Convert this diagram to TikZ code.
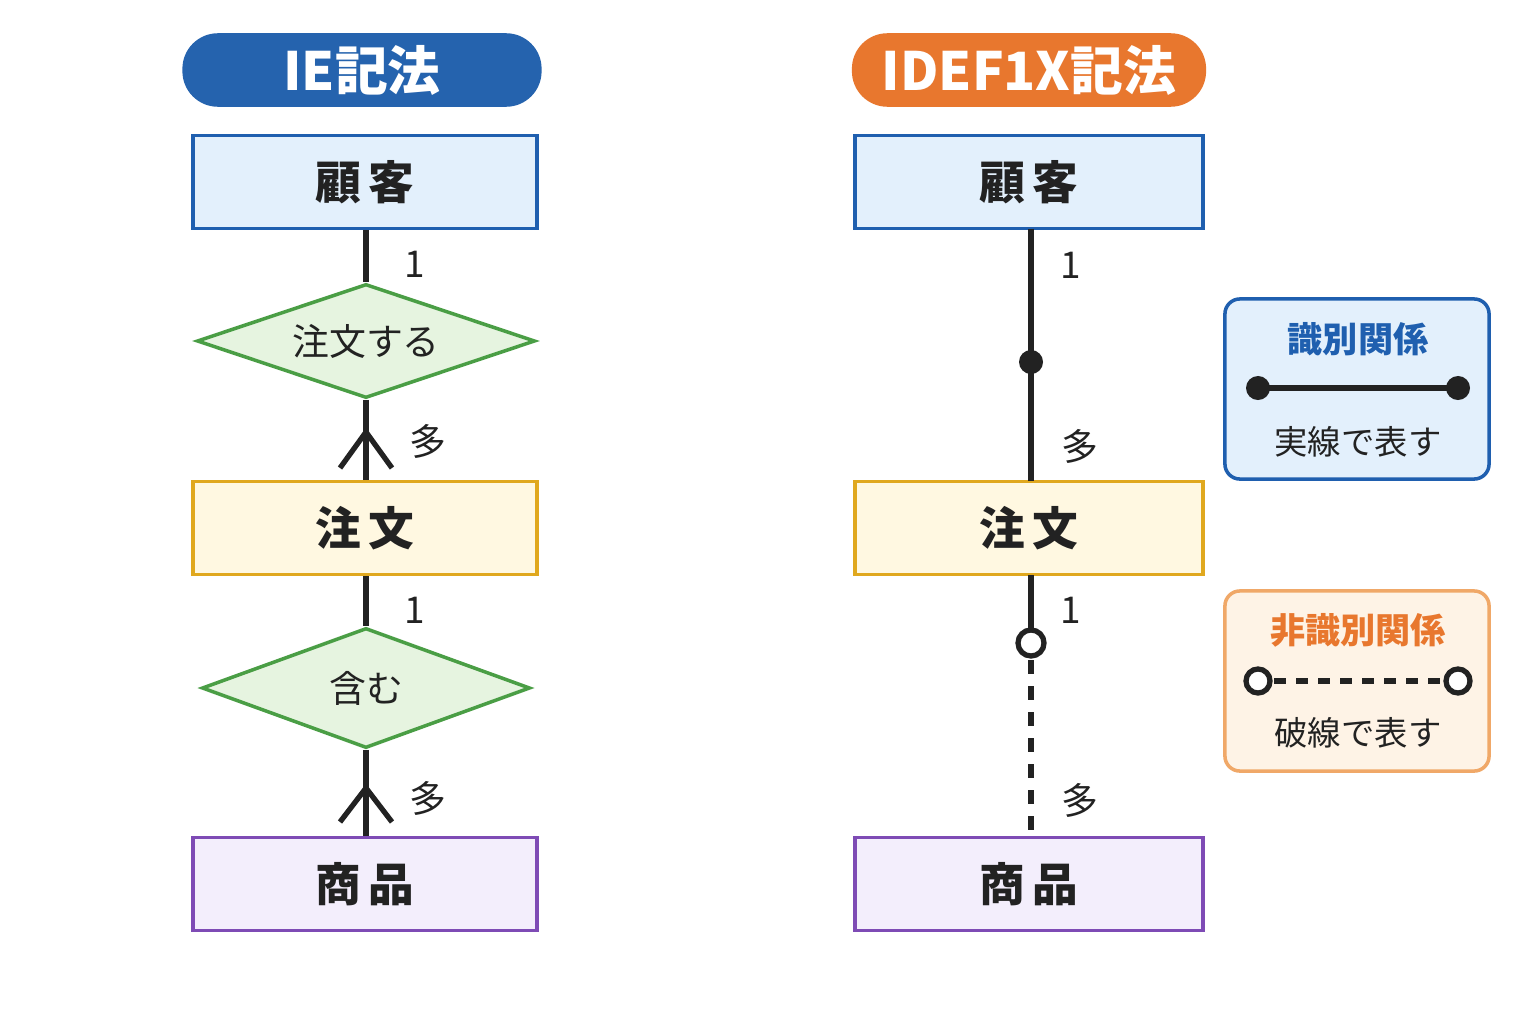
\documentclass[tikz,border=0pt]{standalone}
\usepackage{fontspec}
\setmainfont{Noto Sans CJK JP}
\usetikzlibrary{shapes.geometric}
\definecolor{ieblue}{HTML}{2563AE}
\definecolor{idorange}{HTML}{E8772E}
\definecolor{bfill}{HTML}{E3F0FC}\definecolor{bline}{HTML}{1F5FAF}
\definecolor{yfill}{HTML}{FFF8E1}\definecolor{yline}{HTML}{E0A81E}
\definecolor{pfill}{HTML}{F3EEFC}\definecolor{pline}{HTML}{7E4BB5}
\definecolor{gfill}{HTML}{E6F4E0}\definecolor{gline}{HTML}{4A9E45}
\definecolor{ofill}{HTML}{FEF3E6}\definecolor{oline}{HTML}{F0A868}
\definecolor{txt}{HTML}{222222}
\begin{document}
\begin{tikzpicture}[x=0.01cm,y=-0.01cm,
 pill/.style={rounded corners=0.355cm,text=white,font=\fontsize{15}{18}\selectfont\bfseries},
 ent/.style={draw,line width=1pt,minimum width=3.44cm,minimum height=0.93cm,font=\fontsize{13}{16}\selectfont\bfseries,text=txt},
 rel/.style={diamond,draw=gline,fill=gfill,line width=1pt,aspect=2.9,inner sep=0pt,font=\fontsize{10.5}{13}\selectfont,text=txt},
 con/.style={line width=1.5pt,txt},
 lab/.style={font=\fontsize{10.5}{13}\selectfont,text=txt},
 glab/.style={font=\fontsize{9.5}{12}\selectfont,text=txt},
 leg/.style={draw,line width=1pt,rounded corners=0.15cm,minimum width=2.64cm,minimum height=1.8cm}]
\useasboundingbox[fill=white] (0,0) rectangle (1536,1024);
% titles
\node[pill,fill=ieblue,minimum width=3.59cm,minimum height=0.71cm] (t1) at (362,70) {IE記法};
\node[pill,fill=idorange,minimum width=3.54cm,minimum height=0.71cm] (t2) at (1029,70) {IDEF1X記法};
% left
\node[ent,draw=bline,fill=bfill] (c1) at (365,182) {顧\,客};
\node[ent,draw=yline,fill=yfill] (o1) at (365,528) {注\,文};
\node[ent,draw=pline,fill=pfill] (p1) at (365,884) {商\,品};
\node[rel,minimum width=3.38cm,minimum height=1.14cm] (r1) at (366,341) {注文する};
\node[rel,minimum width=3.28cm,minimum height=1.2cm] (r2) at (366,688) {含む};
\draw[con] (c1.south -| r1.north) -- (r1.north);
\draw[con] (r1.south) -- (o1.north -| r1.south);
\coordinate (f1) at (366,432);
\draw[con] (f1) -- (340,468) (f1) -- (392,468);
\draw[con] (o1.south -| r2.north) -- (r2.north);
\draw[con] (r2.south) -- (p1.north -| r2.south);
\coordinate (f2) at (366,788);
\draw[con] (f2) -- (340,822) (f2) -- (392,822);
\node[lab] (l1) at (415,264) {1};
\node[lab] (l2) at (428,441) {多};
\node[lab] (l3) at (415,610) {1};
\node[lab] (l4) at (428,798) {多};
% right
\node[ent,draw=bline,fill=bfill,minimum width=3.48cm] (c2) at (1029,182) {顧\,客};
\node[ent,draw=yline,fill=yfill,minimum width=3.48cm] (o2) at (1029,528) {注\,文};
\node[ent,draw=pline,fill=pfill,minimum width=3.48cm] (p2) at (1029,884) {商\,品};
\coordinate (a1) at (1031,228.6);
\coordinate (a2) at (1031,481.4);
\draw[con] (a1) -- (a2);
\fill[txt] (1031,362) circle (0.12cm);
\coordinate (b1) at (1031,575.4);
\coordinate (b2) at (1031,835.4);
\draw[con] (b1) -- (1031,630);
\draw[con,dash pattern=on 0.14cm off 0.12cm] (1031,660) -- (b2);
\draw[con,fill=white] (1031,643) circle (0.13cm);
\node[lab] (m1) at (1071,265) {1};
\node[lab] (m2) at (1080,446) {多};
\node[lab] (m3) at (1071,610) {1};
\node[lab] (m4) at (1080,800) {多};
% legends
\node[leg,draw=bline,fill=bfill] (g1) at (1357,389) {};
\node[font=\fontsize{10}{12}\selectfont\bfseries,text=bline] (g1t) at (1358,339) {識別関係};
\draw[con] (1258,388) -- (1458,388);
\fill[txt] (1258,388) circle (0.12cm) (1458,388) circle (0.12cm);
\node[glab] (g1b) at (1358,442) {実線で表す};
\node[leg,draw=oline,fill=ofill] (g2) at (1357,681) {};
\node[font=\fontsize{10}{12}\selectfont\bfseries,text=idorange] (g2t) at (1358,630) {非識別関係};
\draw[con,dash pattern=on 0.12cm off 0.1cm] (1274,681) -- (1445,681);
\draw[con,fill=white] (1258,681) circle (0.12cm) (1458,681) circle (0.12cm);
\node[glab] (g2b) at (1358,733) {破線で表す};
\end{tikzpicture}
\end{document}
